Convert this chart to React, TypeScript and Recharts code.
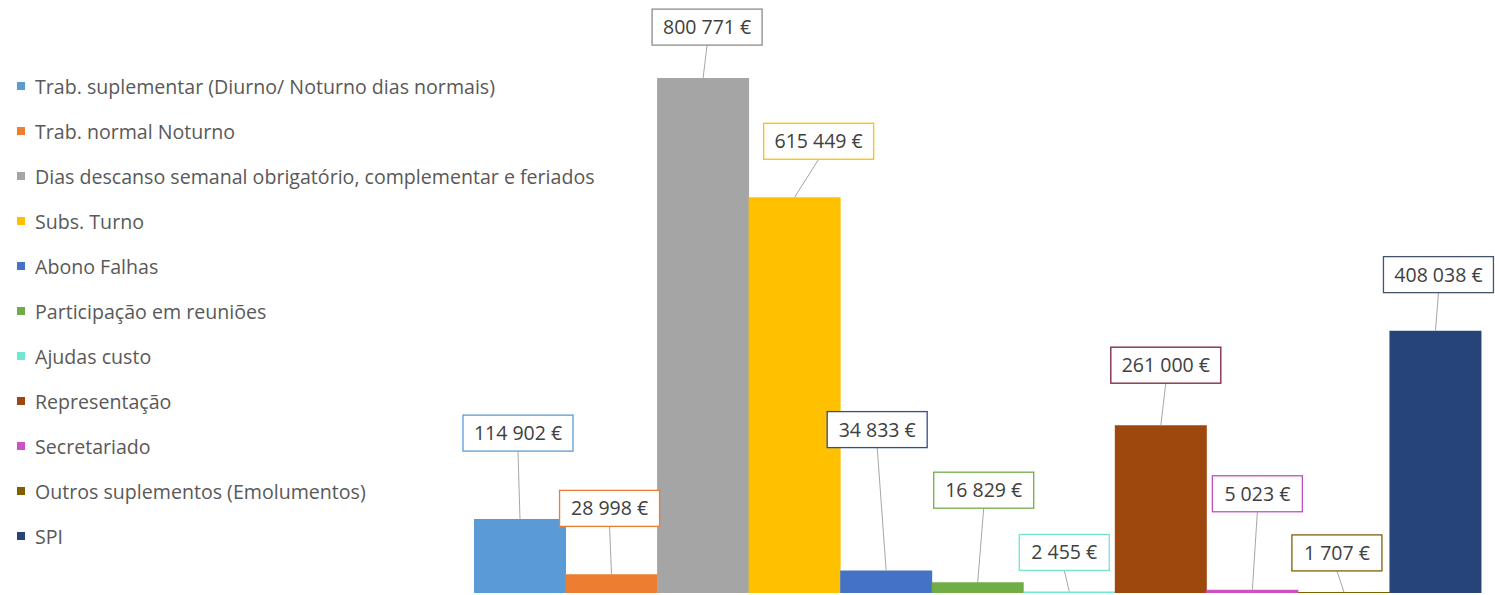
import React from 'react';
import { BarChart, Bar, XAxis, YAxis, Cell, LabelList } from 'recharts';

const categories = [
  'Trab. suplementar (Diurno/ Noturno dias normais)',
  'Trab. normal Noturno',
  'Dias descanso semanal obrigatório, complementar e feriados',
  'Subs. Turno',
  'Abono Falhas',
  'Participação em reuniões',
  'Ajudas custo',
  'Representação',
  'Secretariado',
  'Outros suplementos (Emolumentos)',
  'SPI',
];

const amounts = [114902, 28998, 800771, 615449, 34833, 16829, 2455, 261000, 5023, 1707, 408038];

const barColors = [
  '#5B9BD5', '#ED7D31', '#A5A5A5', '#FFC000', '#4472C4', '#70AD47',
  '#6FE8CF', '#9E480E', '#D051C2', '#7F6000', '#264478',
];

const boxBorders = [
  '#5B9BD5', '#ED7D31', '#8C8C8C', '#FFC000', '#2F4F8F', '#70AD47',
  '#6FE8CF', '#7B1F3A', '#C050C0', '#7F6000', '#44546A',
];

// manual label placement (dx, dy from bar top centre), like moved Excel labels
const labelOffsets = [
  [-2, -86], [-2, -66], [4, -51], [24, -56], [-9, -141], [6, -92],
  [-5, -39], [5, -60], [5, -96], [-7, -39], [3, -56],
];

const fmt = (v: number) => String(v).replace(/\B(?=(\d{3})+(?!\d))/g, ' ') + ' €';

const data = categories.map((name, i) => ({ name, amount: amounts[i] }));

const renderLabel = (props: any) => {
  const { x, y, width, index, value } = props;
  const cx = Number(x) + Number(width) / 2;
  const top = Number(y);
  const [dx, dy] = labelOffsets[index];
  const text = fmt(Number(value));
  const w = text.length * 10 + 20;
  const h = 36;
  const bx = cx + dx;
  const by = top + dy;
  return (
    <g key={`lbl-${index}`}>
      <line x1={bx} y1={by + h / 2} x2={cx} y2={top} stroke="#A6A6A6" strokeWidth={1} />
      <rect x={bx - w / 2} y={by - h / 2} width={w} height={h} fill="#fff" stroke={boxBorders[index]} strokeWidth={1.3} />
      <text x={bx} y={by + 7} textAnchor="middle" fontSize={19.5} fill="#404040" fontFamily="'Open Sans', sans-serif">
        {text}
      </text>
    </g>
  );
};

const App: React.FC = () => {
  return (
    <div style={{ position: 'absolute', left: 0, top: 0, width: 1495, height: 595, background: '#fff' }}>
      <div style={{ position: 'absolute', left: 0, top: 0, fontFamily: "'Open Sans', sans-serif", color: '#595959', fontSize: 19.6 }}>
        {categories.map((c, i) => (
          <div key={c} style={{ position: 'absolute', left: 17, top: 86 + i * 45 - 14, height: 28, display: 'flex', alignItems: 'center', whiteSpace: 'nowrap' }}>
            <span style={{ display: 'inline-block', width: 8, height: 8, background: barColors[i], marginRight: 10 }} />
            <span>{c}</span>
          </div>
        ))}
      </div>
      <BarChart width={1495} height={595} data={data} margin={{ top: 0, right: 14, bottom: 2, left: 474 }} barCategoryGap={0} barGap={0}>
        <XAxis dataKey="name" hide />
        <YAxis hide domain={[0, 922240]} />
        <Bar dataKey="amount" isAnimationActive={false}>
          {data.map((d, i) => (
            <Cell key={d.name} fill={barColors[i]} />
          ))}
          <LabelList dataKey="amount" content={renderLabel} />
        </Bar>
      </BarChart>
    </div>
  );
};

export default App;
